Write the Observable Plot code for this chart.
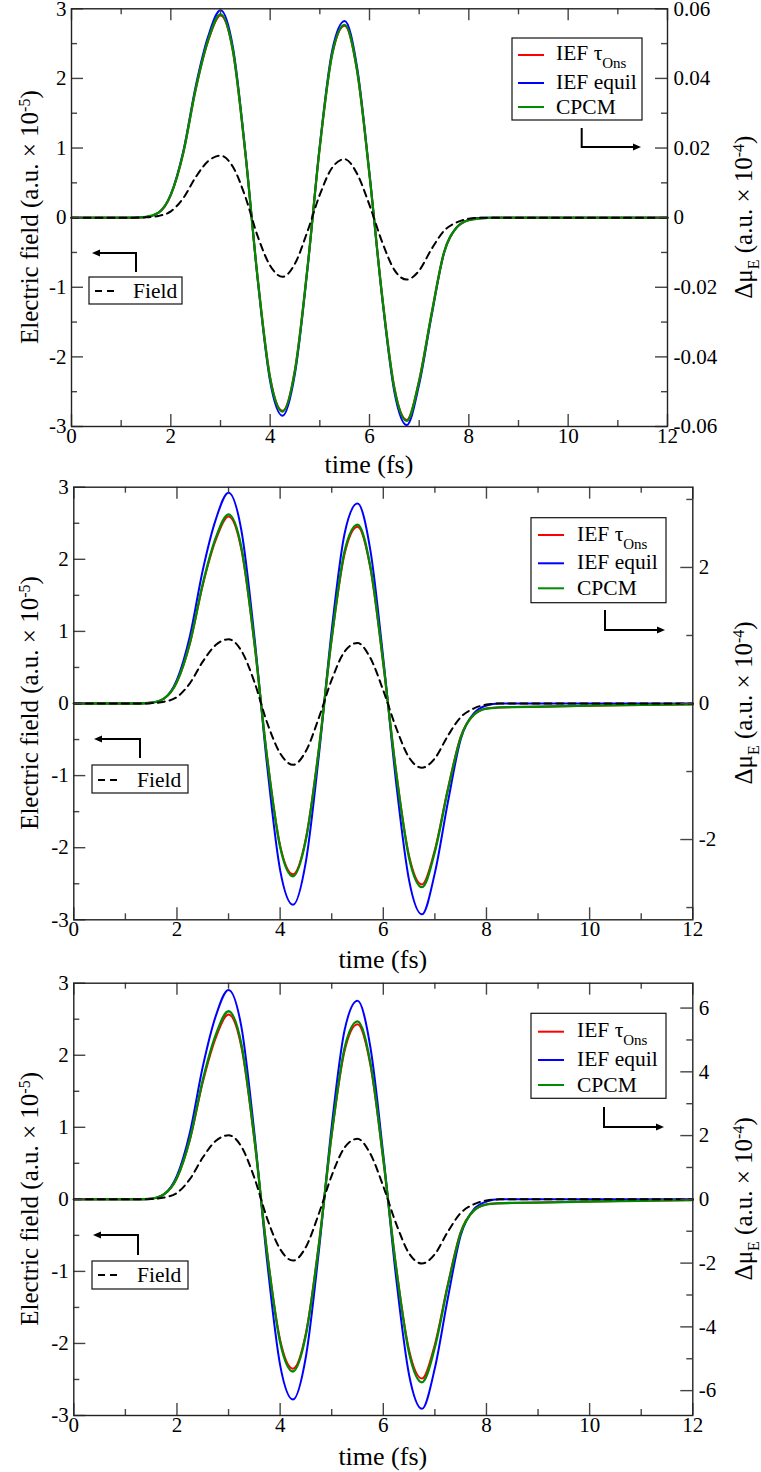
<!DOCTYPE html>
<html>
<head>
<meta charset="utf-8">
<script src="https://cdn.jsdelivr.net/npm/d3@7"></script>
<script src="https://cdn.jsdelivr.net/npm/@observablehq/plot@0.6"></script>
<style>
  body { margin: 0; background: #fff; }
  #wrap { position: relative; width: 761px; height: 1472px; background: #fff; }
  text { white-space: pre; }
</style>
</head>
<body>
<div id="wrap"></div>
<script>
// ---------------- DATA ----------------
const time = [0, 1, 1.25, 1.5, 1.75, 2, 2.25, 2.5, 2.75, 3, 3.25, 3.5, 3.75, 4, 4.25, 4.5, 4.75, 5, 5.25, 5.5, 5.75, 6, 6.25, 6.5, 6.75, 7, 7.25, 7.5, 7.75, 8, 8.25, 8.5, 9, 10, 11, 12];

// Electric field (a.u. x 10^-5), same pulse in all three panels
const field = [0, 0, 0, 0.005, 0.025, 0.09, 0.28, 0.58, 0.81, 0.89, 0.73, 0.3, -0.27, -0.69, -0.85, -0.66, -0.2, 0.33, 0.72, 0.84, 0.63, 0.18, -0.34, -0.75, -0.89, -0.76, -0.45, -0.19, -0.07, -0.015, 0, 0, 0, 0, 0, 0];

// Panel 1: delta mu_E (a.u. x 10^-4)
const tau1   = [0, 0, 0, 0.0002, 0.0014, 0.0065, 0.0185, 0.0368, 0.0507, 0.0581, 0.0478, 0.0185, -0.0176, -0.0459, -0.0555, -0.0436, -0.0145, 0.0203, 0.0469, 0.0551, 0.0421, 0.0123, -0.0218, -0.0488, -0.0581, -0.0467, -0.0275, -0.01, -0.0029, -0.0007, -0.0002, 0, 0, 0, 0, 0];
const equil1 = [0, 0, 0, 0.0002, 0.0014, 0.0067, 0.019, 0.0377, 0.052, 0.0596, 0.049, 0.019, -0.018, -0.0471, -0.0569, -0.0447, -0.0149, 0.0208, 0.0481, 0.0565, 0.0432, 0.0126, -0.0224, -0.05, -0.0596, -0.0479, -0.0282, -0.0102, -0.0029, -0.0006, 0, 0, 0, 0, 0, 0];
const cpcm1  = [0, 0, 0, 0.0002, 0.0014, 0.0066, 0.0186, 0.0369, 0.051, 0.0584, 0.048, 0.0186, -0.0176, -0.0462, -0.0557, -0.0438, -0.0146, 0.0204, 0.0471, 0.0554, 0.0423, 0.0123, -0.022, -0.049, -0.0584, -0.0469, -0.0276, -0.01, -0.0029, -0.0007, -0.0002, 0, 0, 0, 0, 0];

// Panel 2
const tau2   = [0, 0, 0, 0.011, 0.074, 0.32, 0.88, 1.74, 2.4, 2.75, 2.26, 0.89, -0.8, -2.09, -2.51, -1.98, -0.67, 0.95, 2.2, 2.6, 1.99, 0.58, -1.01, -2.24, -2.66, -2.15, -1.26, -0.49, -0.17, -0.074, -0.058, -0.053, -0.048, -0.032, -0.021, -0.011];
const equil2 = [0, 0, 0, 0.011, 0.074, 0.35, 0.99, 1.96, 2.7, 3.1, 2.54, 0.99, -0.93, -2.45, -2.96, -2.32, -0.77, 1.08, 2.5, 2.94, 2.25, 0.66, -1.17, -2.6, -3.1, -2.49, -1.46, -0.53, -0.15, -0.03, 0, 0, 0, 0, 0, 0];
const cpcm2  = [0, 0, 0, 0.011, 0.074, 0.32, 0.89, 1.76, 2.43, 2.78, 2.29, 0.9, -0.81, -2.11, -2.54, -2.0, -0.68, 0.96, 2.24, 2.63, 2.01, 0.59, -1.02, -2.27, -2.7, -2.18, -1.28, -0.5, -0.17, -0.074, -0.058, -0.053, -0.048, -0.032, -0.021, -0.011];

// Panel 3
const tau3   = [0, 0, 0, 0.02, 0.16, 0.67, 1.86, 3.67, 5.06, 5.8, 4.77, 1.88, -1.68, -4.41, -5.31, -4.19, -1.41, 2.02, 4.66, 5.49, 4.21, 1.23, -2.13, -4.73, -5.62, -4.55, -2.67, -1.03, -0.36, -0.16, -0.123, -0.112, -0.1, -0.067, -0.045, -0.022];
const equil3 = [0, 0, 0, 0.02, 0.16, 0.74, 2.09, 4.16, 5.74, 6.57, 5.4, 2.09, -1.98, -5.2, -6.28, -4.93, -1.64, 2.3, 5.31, 6.23, 4.77, 1.4, -2.48, -5.51, -6.57, -5.29, -3.11, -1.13, -0.32, -0.07, 0, 0, 0, 0, 0, 0];
const cpcm3  = [0, 0, 0, 0.02, 0.16, 0.68, 1.89, 3.74, 5.15, 5.9, 4.86, 1.91, -1.71, -4.48, -5.4, -4.25, -1.44, 2.05, 4.75, 5.58, 4.28, 1.26, -2.16, -4.82, -5.74, -4.64, -2.72, -1.06, -0.36, -0.16, -0.124, -0.113, -0.1, -0.068, -0.045, -0.023];

// Ticks
const xMajor = [0, 2, 4, 6, 8, 10, 12];
const xMinor = [1, 3, 5, 7, 9, 11];
const leftMajor = [-3, -2, -1, 0, 1, 2, 3];
const leftMinor = [-2.5, -1.5, -0.5, 0.5, 1.5, 2.5];
const leftDomain = [-3, 3];
const rMajor1 = [-0.06, -0.04, -0.02, 0, 0.02, 0.04, 0.06];
const rMinor1 = [-0.05, -0.03, -0.01, 0.01, 0.03, 0.05];
const rMajor2 = [-2, 0, 2];
const rMinor2 = [-3, -1, 1, 3];
const rMajor3 = [-6, -4, -2, 0, 2, 4, 6];
const rMinor3 = [-5, -3, -1, 1, 3, 5];
const rightMax = [0.06, 3.18, 6.78];

const seriesNames = ["IEF τ", "IEF equil", "CPCM"];
const seriesColors = ["#ff0000", "#0000ff", "#008b00"];

// ---------------- LAYOUT ----------------
const FONT = "'Liberation Serif', 'Times New Roman', serif";
const panels = [
  {top: 0, height: 480, mt: 8.3, mb: 54, ml: 71, mr: 94,
   tau: tau1, equil: equil1, cpcm: cpcm1, rMax: rightMax[0], rMajor: rMajor1, rMinor: rMinor1, xTitleDy: 47,
   legend: {x: 512, y: 38, w: 130, h: 82, lx1: 518, lx2: 544, ly: [55, 83, 107], tx: 556, tb: [60, 88.5, 114], ax: 581.7, ay1: 128, ay2: 147, ahx: 641},
   fleg: {x: 89, y: 277, w: 93, h: 27, lx1: 95, lx2: 119, ly: 291, tx: 133, tb: 298, ax: 136, ay1: 272, ay2: 253, ahx: 92}},
  {top: 480, height: 500, mt: 6.7, mb: 60.7, ml: 73.3, mr: 68.7,
   tau: tau2, equil: equil2, cpcm: cpcm2, rMax: rightMax[1], rMajor: rMajor2, rMinor: rMinor2, xTitleDy: 49,
   legend: {x: 531, y: 37.7, w: 135, h: 85, lx1: 538, lx2: 564, ly: [55, 83.3, 108.3], tx: 577, tb: [60.5, 89, 115], ax: 605, ay1: 130, ay2: 150, ahx: 665},
   fleg: {x: 92, y: 285, w: 96, h: 28, lx1: 98, lx2: 122, ly: 300, tx: 137, tb: 307, ax: 140, ay1: 278, ay2: 259, ahx: 94}},
  {top: 980, height: 492, mt: 2.7, mb: 57, ml: 73.3, mr: 68.7,
   tau: tau3, equil: equil3, cpcm: cpcm3, rMax: rightMax[2], rMajor: rMajor3, rMinor: rMinor3, xTitleDy: 50,
   legend: {x: 531, y: 33.3, w: 135, h: 85, lx1: 538, lx2: 564, ly: [51.7, 80, 105], tx: 577, tb: [57, 85.5, 111.5], ax: 604, ay1: 127, ay2: 147, ahx: 664},
   fleg: {x: 92, y: 281, w: 96, h: 28, lx1: 98, lx2: 122, ly: 295, tx: 137, tb: 302, ax: 138, ay1: 275, ay2: 255, ahx: 93}}
];

const wrap = document.getElementById("wrap");
const TICK = "#444";
const CURVE = "monotone-x";

panels.forEach((p) => {
  const k = p.rMax / leftDomain[1]; // right-axis units per left-axis unit
  const W = 761 - p.ml - p.mr;
  const H = p.height - p.mt - p.mb;
  const rows = (arr) => time.map((t, i) => ({t, v: arr[i]}));
  const dip = (arr, color, sw) => Plot.line(rows(arr), {x: "t", y: d => d.v / k, stroke: color, strokeWidth: sw, curve: CURVE});
  const lab = {fontSize: 21, fontFamily: FONT, fill: "#000"};

  const chart = Plot.plot({
    width: 761, height: p.height,
    marginTop: p.mt, marginBottom: p.mb, marginLeft: p.ml, marginRight: p.mr,
    style: `font-family: ${FONT}; font-size: 21px; background: transparent; overflow: visible; color: #000;`,
    x: {domain: [0, 12], axis: null},
    y: {domain: leftDomain, axis: null},
    marks: [
      dip(p.equil, seriesColors[1], 2),
      dip(p.tau, seriesColors[0], 2),
      dip(p.cpcm, seriesColors[2], 2.3),
      Plot.line(rows(field), {x: "t", y: "v", stroke: "#000", strokeWidth: 2, strokeDasharray: "7,5", curve: CURVE}),
      // inward ticks
      Plot.ruleX(xMajor, {x: d => d, insetTop: H - 12, stroke: TICK, strokeWidth: 1.4}),
      Plot.ruleX(xMajor, {x: d => d, insetBottom: H - 12, stroke: TICK, strokeWidth: 1.4}),
      Plot.ruleX(xMinor, {x: d => d, insetTop: H - 6, stroke: TICK, strokeWidth: 1.4}),
      Plot.ruleX(xMinor, {x: d => d, insetBottom: H - 6, stroke: TICK, strokeWidth: 1.4}),
      Plot.ruleY(leftMajor, {y: d => d, insetRight: W - 12, stroke: TICK, strokeWidth: 1.4}),
      Plot.ruleY(leftMinor, {y: d => d, insetRight: W - 6, stroke: TICK, strokeWidth: 1.4}),
      Plot.ruleY(p.rMajor, {y: d => d / k, insetLeft: W - 12, stroke: TICK, strokeWidth: 1.4}),
      Plot.ruleY(p.rMinor, {y: d => d / k, insetLeft: W - 6, stroke: TICK, strokeWidth: 1.4}),
      Plot.frame({stroke: "#222", strokeWidth: 1.4}),
      // tick labels
      Plot.text(xMajor, {x: d => d, frameAnchor: "bottom", dy: 16, text: d => String(d), ...lab}),
      Plot.text(leftMajor, {y: d => d, frameAnchor: "left", dx: -5, textAnchor: "end", text: d => String(d), ...lab}),
      Plot.text(p.rMajor, {y: d => d / k, frameAnchor: "right", dx: 6, textAnchor: "start", text: d => String(d), ...lab})
    ]
  });
  chart.style.position = "absolute";
  chart.style.left = "0px";
  chart.style.top = p.top + "px";
  wrap.appendChild(chart);

  const svg = d3.select(chart);
  const fx0 = p.ml, fx1 = 761 - p.mr, fy0 = p.mt, fy1 = p.height - p.mb;
  const cx = (fx0 + fx1) / 2, cy = (fy0 + fy1) / 2;
  const ann = svg.append("g").attr("font-family", FONT).attr("fill", "#000").attr("text-anchor", "start");

  // axis titles
  ann.append("text").attr("x", cx).attr("y", fy1 + p.xTitleDy).attr("text-anchor", "middle").attr("font-size", 26).text("time (fs)");
  const lt = ann.append("text").attr("transform", `translate(38,${cy}) rotate(-90)`).attr("text-anchor", "middle").attr("font-size", 25);
  lt.append("tspan").text("Electric field (a.u. × 10");
  lt.append("tspan").attr("dy", -8).attr("font-size", 16).text("-5");
  lt.append("tspan").attr("dy", 8).text(")");
  const rt = ann.append("text").attr("transform", `translate(752,${cy}) rotate(-90)`).attr("text-anchor", "middle").attr("font-size", 25);
  rt.append("tspan").text("Δμ");
  rt.append("tspan").attr("dy", 7).attr("font-size", 16).text("E");
  rt.append("tspan").attr("dy", -7).text(" (a.u. × 10");
  rt.append("tspan").attr("dy", -8).attr("font-size", 16).text("-4");
  rt.append("tspan").attr("dy", 8).text(")");

  // series legend
  const L = p.legend;
  ann.append("rect").attr("x", L.x).attr("y", L.y).attr("width", L.w).attr("height", L.h)
    .attr("fill", "#fff").attr("stroke", "#111").attr("stroke-width", 1.2);
  seriesNames.forEach((name, i) => {
    ann.append("line").attr("x1", L.lx1).attr("x2", L.lx2).attr("y1", L.ly[i]).attr("y2", L.ly[i])
      .attr("stroke", seriesColors[i]).attr("stroke-width", 2);
    const t = ann.append("text").attr("x", L.tx).attr("y", L.tb[i]).attr("font-size", 21.5).attr("text-anchor", "start").text(name);
    if (i === 0) t.append("tspan").attr("dy", 8).attr("font-size", 15).text("Ons");
  });
  ann.append("path").attr("d", `M${L.ax},${L.ay1}V${L.ay2}H${L.ahx - 6}`).attr("fill", "none").attr("stroke", "#000").attr("stroke-width", 2);
  ann.append("path").attr("d", `M${L.ahx},${L.ay2}L${L.ahx - 8},${L.ay2 - 3.5}L${L.ahx - 8},${L.ay2 + 3.5}Z`).attr("fill", "#000");

  // field legend
  const F = p.fleg;
  ann.append("rect").attr("x", F.x).attr("y", F.y).attr("width", F.w).attr("height", F.h)
    .attr("fill", "#fff").attr("stroke", "#111").attr("stroke-width", 1.2);
  ann.append("line").attr("x1", F.lx1).attr("x2", F.lx2).attr("y1", F.ly).attr("y2", F.ly)
    .attr("stroke", "#000").attr("stroke-width", 2).attr("stroke-dasharray", "7,5");
  ann.append("text").attr("x", F.tx).attr("y", F.tb).attr("font-size", 21.5).attr("text-anchor", "start").text("Field");
  ann.append("path").attr("d", `M${F.ax},${F.ay1}V${F.ay2}H${F.ahx + 6}`).attr("fill", "none").attr("stroke", "#000").attr("stroke-width", 2);
  ann.append("path").attr("d", `M${F.ahx},${F.ay2}L${F.ahx + 8},${F.ay2 - 3.5}L${F.ahx + 8},${F.ay2 + 3.5}Z`).attr("fill", "#000");
});
</script>
</body>
</html>
